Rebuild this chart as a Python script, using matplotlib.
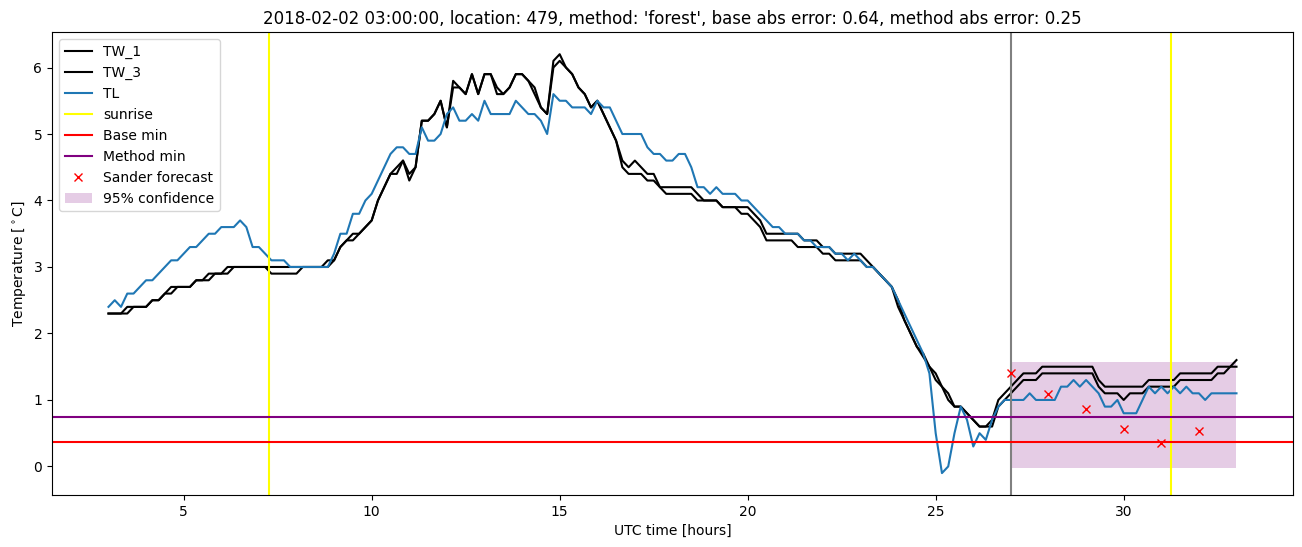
"""Temperature trace for one location with min-temperature forecasts."""

import matplotlib
matplotlib.use("Agg")
import matplotlib.pyplot as plt
import numpy as np

TITLE = ("2018-02-02 03:00:00, location: 479, method: 'forest', "
         "base abs error: 0.64, method abs error: 0.25")

# 10-minute samples from 03:00 to 33:00 (hours after midnight)
START_HOUR = 3.0
STEP_MIN = 10

TW_1 = [
    2.3, 2.3, 2.3, 2.3, 2.4, 2.4,  # 3h
    2.4, 2.5, 2.5, 2.6, 2.6, 2.7,
    2.7, 2.7, 2.8, 2.8, 2.8, 2.9,
    2.9, 2.9, 3.0, 3.0, 3.0, 3.0,
    3.0, 3.0, 2.9, 2.9, 2.9, 2.9,
    2.9, 3.0, 3.0, 3.0, 3.0, 3.0,  # 8h
    3.1, 3.3, 3.4, 3.4, 3.5, 3.6,
    3.7, 4.0, 4.2, 4.4, 4.4, 4.6,
    4.4, 4.5, 5.2, 5.2, 5.3, 5.5,
    5.1, 5.8, 5.7, 5.6, 5.9, 5.6,
    5.9, 5.9, 5.7, 5.6, 5.7, 5.9,  # 13h
    5.9, 5.8, 5.7, 5.4, 5.3, 6.1,
    6.2, 6.0, 5.9, 5.7, 5.6, 5.4,
    5.5, 5.3, 5.1, 4.9, 4.6, 4.5,
    4.6, 4.5, 4.4, 4.4, 4.2, 4.2,
    4.2, 4.2, 4.2, 4.2, 4.1, 4.0,  # 18h
    4.0, 4.0, 3.9, 3.9, 3.9, 3.9,
    3.9, 3.8, 3.7, 3.5, 3.5, 3.5,
    3.5, 3.5, 3.5, 3.4, 3.4, 3.4,
    3.3, 3.3, 3.2, 3.2, 3.2, 3.2,
    3.2, 3.1, 3.0, 2.9, 2.8, 2.7,  # 23h
    2.5, 2.2, 2.0, 1.8, 1.65, 1.5,
    1.3, 1.2, 1.0, 0.9, 0.9, 0.8,
    0.7, 0.6, 0.6, 0.7, 1.0, 1.1,
    1.2, 1.3, 1.4, 1.4, 1.4, 1.5,
    1.5, 1.5, 1.5, 1.5, 1.5, 1.5,  # 28h
    1.5, 1.5, 1.3, 1.2, 1.2, 1.2,
    1.2, 1.2, 1.2, 1.2, 1.3, 1.3,
    1.3, 1.3, 1.3, 1.4, 1.4, 1.4,
    1.4, 1.4, 1.4, 1.5, 1.5, 1.5,
    1.6,
]

TW_3 = [
    2.3, 2.3, 2.3, 2.4, 2.4, 2.4,  # 3h
    2.4, 2.5, 2.5, 2.6, 2.7, 2.7,
    2.7, 2.7, 2.8, 2.8, 2.9, 2.9,
    2.9, 3.0, 3.0, 3.0, 3.0, 3.0,
    3.0, 3.0, 3.0, 3.0, 3.0, 3.0,
    3.0, 3.0, 3.0, 3.0, 3.0, 3.1,  # 8h
    3.1, 3.3, 3.4, 3.5, 3.5, 3.6,
    3.7, 4.0, 4.2, 4.4, 4.5, 4.6,
    4.3, 4.5, 5.2, 5.2, 5.3, 5.5,
    5.1, 5.7, 5.7, 5.6, 5.9, 5.6,
    5.9, 5.9, 5.6, 5.6, 5.7, 5.9,  # 13h
    5.9, 5.8, 5.6, 5.4, 5.3, 6.0,
    6.1, 6.0, 5.9, 5.7, 5.6, 5.4,
    5.5, 5.3, 5.1, 4.9, 4.5, 4.4,
    4.4, 4.4, 4.3, 4.3, 4.2, 4.1,
    4.1, 4.1, 4.1, 4.1, 4.0, 4.0,  # 18h
    4.0, 4.0, 3.9, 3.9, 3.9, 3.8,
    3.8, 3.7, 3.6, 3.4, 3.4, 3.4,
    3.4, 3.4, 3.3, 3.3, 3.3, 3.3,
    3.2, 3.2, 3.1, 3.1, 3.1, 3.1,
    3.1, 3.0, 3.0, 2.9, 2.8, 2.7,  # 23h
    2.4, 2.2, 2.0, 1.8, 1.7, 1.5,
    1.4, 1.2, 1.1, 0.9, 0.9, 0.8,
    0.7, 0.6, 0.6, 0.6, 0.9, 1.0,
    1.1, 1.2, 1.3, 1.3, 1.3, 1.4,
    1.4, 1.4, 1.4, 1.4, 1.4, 1.4,  # 28h
    1.4, 1.4, 1.2, 1.1, 1.1, 1.1,
    1.0, 1.1, 1.1, 1.1, 1.2, 1.2,
    1.2, 1.2, 1.2, 1.3, 1.3, 1.3,
    1.3, 1.3, 1.3, 1.4, 1.4, 1.5,
    1.5,
]

TL = [
    2.4, 2.5, 2.4, 2.6, 2.6, 2.7,  # 3h
    2.8, 2.8, 2.9, 3.0, 3.1, 3.1,
    3.2, 3.3, 3.3, 3.4, 3.5, 3.5,
    3.6, 3.6, 3.6, 3.7, 3.6, 3.3,
    3.3, 3.2, 3.1, 3.1, 3.1, 3.0,
    3.0, 3.0, 3.0, 3.0, 3.0, 3.0,  # 8h
    3.2, 3.5, 3.5, 3.8, 3.8, 4.0,
    4.1, 4.3, 4.5, 4.7, 4.8, 4.8,
    4.7, 4.7, 5.1, 4.9, 4.9, 5.0,
    5.3, 5.4, 5.2, 5.2, 5.3, 5.2,
    5.5, 5.3, 5.3, 5.3, 5.3, 5.5,  # 13h
    5.4, 5.3, 5.3, 5.2, 5.0, 5.6,
    5.5, 5.5, 5.4, 5.4, 5.4, 5.3,
    5.5, 5.4, 5.4, 5.2, 5.0, 5.0,
    5.0, 5.0, 4.8, 4.7, 4.7, 4.6,
    4.6, 4.7, 4.7, 4.5, 4.2, 4.2,  # 18h
    4.1, 4.2, 4.1, 4.1, 4.1, 4.0,
    4.0, 3.9, 3.8, 3.7, 3.6, 3.6,
    3.5, 3.5, 3.5, 3.4, 3.4, 3.3,
    3.3, 3.3, 3.2, 3.2, 3.1, 3.2,
    3.1, 3.0, 3.0, 2.9, 2.8, 2.7,  # 23h
    2.5, 2.3, 2.1, 1.9, 1.7, 1.4,
    0.5, -0.1, 0.0, 0.5, 0.9, 0.7,
    0.3, 0.5, 0.4, 0.7, 0.9, 1.0,
    1.0, 1.0, 1.0, 1.1, 1.0, 1.0,
    1.0, 1.0, 1.2, 1.2, 1.3, 1.2,  # 28h
    1.3, 1.2, 1.1, 0.9, 0.9, 1.0,
    0.8, 0.8, 0.8, 1.0, 1.2, 1.1,
    1.2, 1.1, 1.2, 1.1, 1.2, 1.1,
    1.1, 1.0, 1.1, 1.1, 1.1, 1.1,
    1.1,
]

SUNRISE = [7.27, 31.25]
BASE_MIN = 0.365
METHOD_MIN = 0.75
FORECAST_START = 27.0
FORECAST_HOURS = [27, 28, 29, 30, 31, 32]
FORECAST_VALUES = [1.40, 1.09, 0.87, 0.57, 0.35, 0.53]
CONF_HOURS = [27.0, 33.0]
CONF_LOW = -0.02
CONF_HIGH = 1.57


def main():
    n = len(TL)
    assert len(TW_1) == n and len(TW_3) == n
    hours = START_HOUR + np.arange(n) * STEP_MIN / 60.0

    fig, ax = plt.subplots(figsize=(13.02, 5.47), dpi=100)
    fig.subplots_adjust(left=0.040, right=0.993, bottom=0.095, top=0.941)

    ax.plot(hours, TW_1, color="black", label="TW_1")
    ax.plot(hours, TW_3, color="black", label="TW_3")
    ax.plot(hours, TL, color="tab:blue", label="TL")

    ax.axvline(SUNRISE[0], color="yellow", label="sunrise")
    for s in SUNRISE[1:]:
        ax.axvline(s, color="yellow")
    ax.axvline(FORECAST_START, color="gray")
    ax.axhline(BASE_MIN, color="red", label="Base min")
    ax.axhline(METHOD_MIN, color="purple", label="Method min")

    ax.plot(FORECAST_HOURS, FORECAST_VALUES, "x", color="red",
            label="Sander forecast")
    ax.fill_between(CONF_HOURS, CONF_LOW, CONF_HIGH, color="purple",
                    alpha=0.2, linewidth=0, label="95% confidence")

    ax.set_xlim(1.5, 34.5)
    ax.set_ylim(-0.43, 6.53)
    ax.set_xlabel("UTC time [hours]")
    ax.set_ylabel(r"Temperature [$^\circ$C]")
    ax.set_title(TITLE, fontsize=12)
    ax.legend(loc="upper left")

    fig.savefig("out.png", dpi=100)
    plt.close(fig)


if __name__ == "__main__":
    main()
